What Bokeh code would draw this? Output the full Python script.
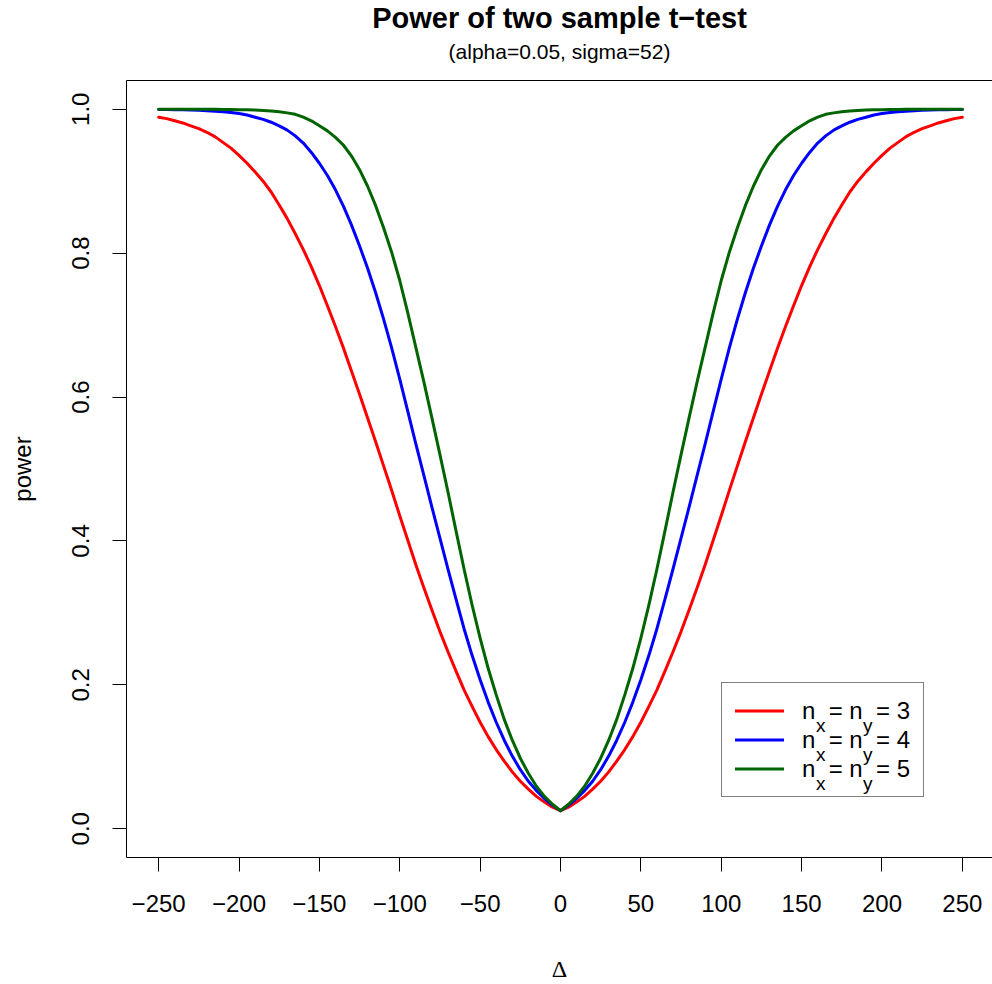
from bokeh.plotting import figure
from bokeh.models import (Range1d, LinearAxis, FixedTicker, CustomJSTickFormatter,
                          Legend, LegendItem, Label, Title, ColumnDataSource)
from bokeh.embed import file_html
from bokeh.resources import INLINE

# ---------------- data ----------------
delta = [-250, -245, -240, -235, -230, -225, -220, -215, -210, -205,
         -200, -195, -190, -185, -180, -175, -170, -165, -160, -155,
         -150, -145, -140, -135, -130, -125, -120, -115, -110, -105,
         -100, -95, -90, -85, -80, -75, -70, -65, -60, -55,
         -50, -45, -40, -35, -30, -25, -20, -15, -10, -5,
         0,
         5, 10, 15, 20, 25, 30, 35, 40, 45, 50,
         55, 60, 65, 70, 75, 80, 85, 90, 95, 100,
         105, 110, 115, 120, 125, 130, 135, 140, 145, 150,
         155, 160, 165, 170, 175, 180, 185, 190, 195, 200,
         205, 210, 215, 220, 225, 230, 235, 240, 245, 250]

power_n3 = [0.989, 0.987, 0.984, 0.981, 0.977, 0.973, 0.968, 0.962, 0.954, 0.946,
            0.936, 0.925, 0.913, 0.900, 0.885, 0.867, 0.848, 0.827, 0.805, 0.781,
            0.755, 0.727, 0.698, 0.668, 0.636, 0.604, 0.571, 0.538, 0.504, 0.470,
            0.435, 0.401, 0.367, 0.335, 0.304, 0.274, 0.246, 0.219, 0.193, 0.170,
            0.148, 0.128, 0.110, 0.094, 0.079, 0.066, 0.055, 0.045, 0.037, 0.030,
            0.025,
            0.030, 0.037, 0.045, 0.055, 0.066, 0.079, 0.094, 0.110, 0.128, 0.148,
            0.170, 0.193, 0.219, 0.246, 0.274, 0.304, 0.335, 0.367, 0.401, 0.435,
            0.470, 0.504, 0.538, 0.571, 0.604, 0.636, 0.668, 0.698, 0.727, 0.755,
            0.781, 0.805, 0.827, 0.848, 0.867, 0.885, 0.900, 0.913, 0.925, 0.936,
            0.946, 0.954, 0.962, 0.968, 0.973, 0.977, 0.981, 0.984, 0.987, 0.989]

power_n4 = [0.9998, 0.9997, 0.9995, 0.9993, 0.999, 0.9986, 0.998, 0.9973, 0.9965, 0.9955,
            0.994, 0.992, 0.989, 0.986, 0.982, 0.977, 0.971, 0.963, 0.953, 0.940,
            0.925, 0.908, 0.888, 0.865, 0.839, 0.810, 0.779, 0.745, 0.708, 0.668,
            0.625, 0.580, 0.535, 0.491, 0.447, 0.404, 0.361, 0.319, 0.278, 0.241,
            0.207, 0.176, 0.148, 0.123, 0.101, 0.082, 0.066, 0.053, 0.042, 0.033,
            0.025,
            0.033, 0.042, 0.053, 0.066, 0.082, 0.101, 0.123, 0.148, 0.176, 0.207,
            0.241, 0.278, 0.319, 0.361, 0.404, 0.447, 0.491, 0.535, 0.580, 0.625,
            0.668, 0.708, 0.745, 0.779, 0.810, 0.839, 0.865, 0.888, 0.908, 0.925,
            0.940, 0.953, 0.963, 0.971, 0.977, 0.982, 0.986, 0.989, 0.992, 0.994,
            0.9955, 0.9965, 0.9973, 0.998, 0.9986, 0.999, 0.9993, 0.9995, 0.9997, 0.9998]

power_n5 = [1.0, 1.0, 1.0, 1.0, 1.0, 1.0, 0.9999, 0.9999, 0.9998, 0.9997,
            0.9995, 0.9993, 0.999, 0.9983, 0.9975, 0.9965, 0.995, 0.993, 0.989, 0.984,
            0.977, 0.970, 0.961, 0.950, 0.935, 0.916, 0.893, 0.866, 0.835, 0.801,
            0.762, 0.717, 0.669, 0.621, 0.571, 0.520, 0.468, 0.414, 0.361, 0.311,
            0.265, 0.223, 0.186, 0.152, 0.123, 0.098, 0.077, 0.059, 0.045, 0.034,
            0.025,
            0.034, 0.045, 0.059, 0.077, 0.098, 0.123, 0.152, 0.186, 0.223, 0.265,
            0.311, 0.361, 0.414, 0.468, 0.520, 0.571, 0.621, 0.669, 0.717, 0.762,
            0.801, 0.835, 0.866, 0.893, 0.916, 0.935, 0.950, 0.961, 0.970, 0.977,
            0.984, 0.989, 0.993, 0.995, 0.9965, 0.9975, 0.9983, 0.999, 0.9993, 0.9995,
            0.9997, 0.9998, 0.9999, 0.9999, 1.0, 1.0, 1.0, 1.0, 1.0, 1.0]

sample_sizes = [3, 4, 5]
series = [power_n3, power_n4, power_n5]
colors = ["#FF0000", "#0000FF", "#006400"]

x_ticks = [-250, -200, -150, -100, -50, 0, 50, 100, 150, 200, 250]
y_ticks = [0.0, 0.2, 0.4, 0.6, 0.8, 1.0]

title_text = "Power of two sample t\u2212test"
subtitle_text = "(alpha=0.05, sigma=52)"
x_label = "\u0394"
y_label = "power"

# ---------------- layout ----------------
W, H = 992, 984
BL, BT, BB = 126, 80, 127
X0, X1 = -270.0, 268.76
Y0, Y1 = -0.04, 1.04
FONT = "Liberation Sans"

p = figure(width=W, height=H, x_range=Range1d(X0, X1), y_range=Range1d(Y0, Y1),
           output_backend="svg", toolbar_location=None,
           min_border_left=BL, min_border_right=0, min_border_top=BT,
           min_border_bottom=BB, x_axis_location=None, y_axis_location=None)
p.title.visible = False
p.outline_line_color = None
p.background_fill_color = "white"
p.border_fill_color = "white"
p.xgrid.visible = False
p.ygrid.visible = False


def style_axis(ax):
    ax.axis_line_color = "black"
    ax.axis_line_width = 1
    ax.major_tick_line_color = "black"
    ax.major_tick_line_width = 1
    ax.major_tick_in = 0
    ax.major_tick_out = 14
    ax.minor_tick_line_color = None
    ax.major_label_text_font = FONT
    ax.major_label_text_font_size = "24px"
    ax.major_label_text_color = "black"
    ax.axis_label_text_font_size = "24px"
    ax.axis_label_text_font_style = "normal"
    ax.axis_label_text_color = "black"


fmt_x = CustomJSTickFormatter(code="return tick < 0 ? '\\u2212' + Math.abs(tick) : String(tick);")
fmt_y = CustomJSTickFormatter(code="return tick.toFixed(1);")

xaxis = LinearAxis(ticker=FixedTicker(ticks=x_ticks), formatter=fmt_x, axis_label=x_label)
style_axis(xaxis)
xaxis.major_label_standoff = 23
xaxis.axis_label_standoff = 41
xaxis.axis_label_text_font = "Liberation Serif"
p.add_layout(xaxis, "below")

yaxis = LinearAxis(ticker=FixedTicker(ticks=y_ticks), formatter=fmt_y, axis_label=y_label)
style_axis(yaxis)
yaxis.major_label_orientation = "vertical"
yaxis.major_label_standoff = 23
yaxis.axis_label_standoff = 34
yaxis.axis_label_text_font = FONT
p.add_layout(yaxis, "left")

# top border line of the box
top_axis = LinearAxis(ticker=FixedTicker(ticks=[]))
top_axis.axis_line_color = "black"
top_axis.major_tick_out = 0
top_axis.major_tick_in = 0
top_axis.major_tick_line_color = None
top_axis.minor_tick_line_color = None
top_axis.major_label_text_font_size = "0px"
p.add_layout(top_axis, "above")

sub = Title(text=subtitle_text, align="center", text_font=FONT, text_font_size="21px",
            text_font_style="normal", text_color="black", standoff=36)
p.add_layout(sub, "above")
main = Title(text=title_text, align="center", text_font=FONT, text_font_size="29px",
             text_font_style="bold", text_color="black", standoff=-28)
p.add_layout(main, "above")

# ---------------- curves ----------------
renderers = []
for vals, col in zip(series, colors):
    src = ColumnDataSource(data=dict(x=delta, y=vals))
    r = p.line("x", "y", source=src, line_color=col, line_width=3,
               line_join="round", line_cap="round")
    renderers.append(r)

# ---------------- legend ----------------
LEG_X, LEG_Y = 595, 60          # px from frame bottom-left
PAD, GW, ROW, STAND = 13, 49, 29, 18
items = [LegendItem(label="n  = n  = %d" % n, renderers=[r])
         for n, r in zip(sample_sizes, renderers)]
legend = Legend(items=items, location=(LEG_X, LEG_Y), padding=PAD, spacing=0,
                glyph_width=GW, glyph_height=ROW, label_height=ROW,
                label_standoff=STAND, label_text_font=FONT, label_text_font_size="24px",
                label_text_color="black", border_line_color="black", border_line_width=1,
                background_fill_alpha=0.0, margin=0)
p.add_layout(legend)

# subscripts of the legend labels (canvas pixel -> data conversion)
FRAME_H = H - BT - BB
SX = (W - BL) / (X1 - X0)
SY = FRAME_H / (Y1 - Y0)


def to_data(px, py):
    return X0 + (px - BL) / SX, Y1 - (py - BT) / SY


leg_top = BT + FRAME_H - LEG_Y - (2 * PAD + 3 * ROW)
text_origin = BL + LEG_X + PAD + GW + STAND
for i in range(len(sample_sizes)):
    base = leg_top + PAD + ROW * i + ROW / 2 + 13
    for sub_txt, dx in (("x", 14.5), ("y", 61.5)):
        xx, yy = to_data(text_origin + dx, base)
        p.add_layout(Label(x=xx, y=yy, text=sub_txt, text_font=FONT, text_font_size="19px",
                           text_color="black", text_align="left", text_baseline="alphabetic",
                           level="overlay"))

open("out.html", "w").write(file_html(p, INLINE))
